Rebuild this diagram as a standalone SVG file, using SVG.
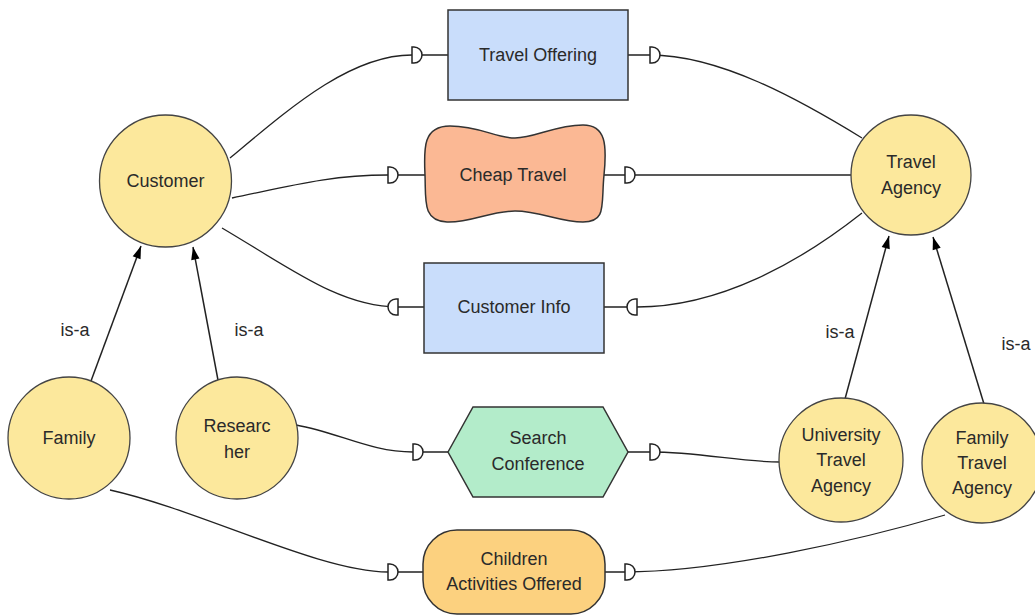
<svg xmlns="http://www.w3.org/2000/svg" xmlns:xlink="http://www.w3.org/1999/xlink" width="1035" height="616" viewBox="0 0 1035 616">
<style>
.circ{fill:#fce89c;stroke:#444;stroke-width:1.3}
.box{fill:#c9ddfb;stroke:#333;stroke-width:1.5}
.lbl{font-family:"Liberation Sans",Arial,sans-serif;font-size:18px;fill:#2a2a2a;text-anchor:middle}
.con{fill:none;stroke:#222;stroke-width:1.3;marker-mid:url(#dm)}
.isa{fill:none;stroke:#222;stroke-width:1.5;marker-end:url(#ah)}
</style>
<defs>
<marker id="dm" markerUnits="userSpaceOnUse" markerWidth="20" markerHeight="20" refX="0" refY="0" orient="auto" viewBox="-2 -10 16 20" overflow="visible">
<path d="M0,-8 H2 A8,8 0 0 1 2,8 H0 Z" fill="#fff" stroke="#222" stroke-width="1.5"/>
</marker>
<marker id="ah" markerUnits="userSpaceOnUse" markerWidth="14" markerHeight="20" refX="0" refY="0" orient="auto" viewBox="-18 -8 20 16" overflow="visible">
<path d="M0,0 L-18,-6 L-18,6 Z" fill="#000"/>
</marker>
</defs>
<g id="connectors">
<path class="con" d="M230,158 C290,108 350,55 412,55 L448,55"/>
<path class="con" d="M628,55 L650,55 C720,55 800,100 862,138"/>
<path class="con" d="M232,198 C290,186 330,175 388,175 L425,175"/>
<path class="con" d="M604,175 L625,175 L851,175"/>
<path class="con" d="M424,307 L398,307 C340,307 290,268 222,228"/>
<path class="con" d="M862,213 C800,262 720,307 637,307 L604,307"/>
<path class="con" d="M296,425 C340,433 370,452 413,452 L448,452"/>
<path class="con" d="M628,452 L650,452 C700,452 740,462 780,462"/>
<path class="con" d="M110,490 C200,510 320,572 388,572 L423,572"/>
<path class="con" d="M605,572 L625,572 C720,572 860,540 945,515"/>
<path class="isa" d="M91,381 L141,246"/>
<path class="isa" d="M218,380 L193,247"/>
<path class="isa" d="M845,399 L889,236"/>
<path class="isa" d="M984,404 L933,237"/>
<text class="lbl" x="75" y="336">is-a</text>
<text class="lbl" x="249" y="336">is-a</text>
<text class="lbl" x="840" y="338">is-a</text>
<text class="lbl" x="1016" y="350">is-a</text>
</g>
<g id="customer"><circle class="circ" cx="165.5" cy="181" r="66"/><text class="lbl" x="165.5" y="187">Customer</text></g>
<g id="travel-agency"><circle class="circ" cx="911" cy="175" r="60"/><text class="lbl" x="911" y="168">Travel</text><text class="lbl" x="911" y="194">Agency</text></g>
<g id="family"><circle class="circ" cx="69" cy="438" r="61"/><text class="lbl" x="69" y="444">Family</text></g>
<g id="researcher"><circle class="circ" cx="237" cy="438" r="61"/><text class="lbl" x="237" y="432">Researc</text><text class="lbl" x="237" y="458">her</text></g>
<g id="university-travel-agency"><circle class="circ" cx="841" cy="460" r="62"/><text class="lbl" x="841" y="441">University</text><text class="lbl" x="841" y="466">Travel</text><text class="lbl" x="841" y="492">Agency</text></g>
<g id="family-travel-agency"><circle class="circ" cx="982" cy="463" r="60"/><text class="lbl" x="982" y="444">Family</text><text class="lbl" x="982" y="469">Travel</text><text class="lbl" x="982" y="494">Agency</text></g>
<g id="travel-offering"><rect class="box" x="448" y="10" width="180" height="90"/><text class="lbl" x="538" y="61">Travel Offering</text></g>
<g id="cheap-travel"><path d="M450,126 C480,126 495,138 515,138 C535,138 555,125 583,125 C606,125 607,145 604,175 C601,205 607,222 583,222 C560,222 540,211 515,211 C490,211 470,223 447,222 C422,221 426,200 425,175 C424,150 422,126 450,126 Z" fill="#fbb894" stroke="#333" stroke-width="1.5"/><text class="lbl" x="513" y="181">Cheap Travel</text></g>
<g id="customer-info"><rect class="box" x="424" y="263" width="180" height="90"/><text class="lbl" x="514" y="313">Customer Info</text></g>
<g id="search-conference"><polygon points="448,452 473,407 603,407 628,452 603,497 473,497" fill="#b3ecca" stroke="#333" stroke-width="1.5"/><text class="lbl" x="538" y="444">Search</text><text class="lbl" x="538" y="470">Conference</text></g>
<g id="children-activities"><rect x="423" y="530" width="182" height="84" rx="34" ry="34" fill="#fcd17f" stroke="#333" stroke-width="1.5"/><text class="lbl" x="514" y="565">Children</text><text class="lbl" x="514" y="590">Activities Offered</text></g>
</svg>
